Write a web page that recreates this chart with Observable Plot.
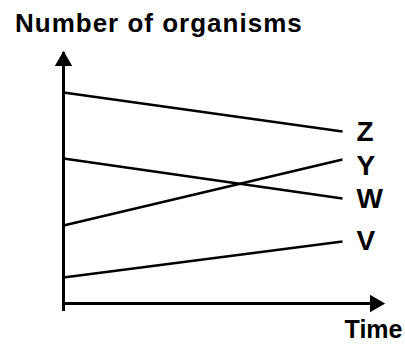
<!DOCTYPE html>
<html>
<head>
<meta charset="utf-8">
<script src="https://cdn.jsdelivr.net/npm/d3@7"></script>
<script src="https://cdn.jsdelivr.net/npm/@observablehq/plot@0.6"></script>
<style>
  body { margin: 0; background: #fff; font-family: "Liberation Sans", Arial, sans-serif; }
  #title { font: bold 26px "Liberation Sans", Arial, sans-serif; letter-spacing: 1px; line-height: 30px; height: 32px; padding: 8px 0 0 15px; color: #000; white-space: nowrap; }
</style>
</head>
<body>
<div id="title">Number of organisms</div>
<div id="chart"></div>
<script>
// Data
const organisms = ["Z", "W", "Y", "V"];
const startValues = [8.41, 5.78, 3.11, 1.04];
const endValues = [6.85, 4.18, 5.74, 2.47];
const timeStart = 0;
const timeEnd = 10;
const yAxisMax = 10;
const xAxisMax = 11.47;
const xLabel = "Time";

const rows = organisms.map((name, i) => ({
  name, x1: timeStart, x2: timeEnd, y1: startValues[i], y2: endValues[i]
}));

const font = "Liberation Sans, Arial, sans-serif";

const chart = Plot.plot({
  width: 405,
  height: 305,
  marginLeft: 63,
  marginRight: 63,
  marginTop: 12,
  marginBottom: 42,
  x: {domain: [0, 10], axis: null},
  y: {domain: [0, 10], axis: null},
  style: {fontFamily: font, overflow: "visible", background: "white", color: "black"},
  marks: [
    // axes
    Plot.ruleX([0], {y1: 0, y2: yAxisMax, stroke: "black", strokeWidth: 3, insetTop: 8}),
    Plot.ruleY([0], {x1: 0, x2: xAxisMax, stroke: "black", strokeWidth: 3, insetRight: 8}),
    Plot.dot([{x: 0, y: yAxisMax}], {x: "x", y: "y", symbol: d3.symbolTriangle, r: 5.5, fill: "black", stroke: "black", dy: 8.5}),
    Plot.dot([{x: xAxisMax, y: 0}], {x: "x", y: "y", symbol: d3.symbolTriangle, r: 5.5, fill: "black", stroke: "black", rotate: 90, dx: -8.5}),
    // lines
    Plot.link(rows, {x1: "x1", y1: "y1", x2: "x2", y2: "y2", stroke: "black", strokeWidth: 2.5}),
    // labels
    Plot.text(rows.filter(d => d.name !== "Y"), {x: "x2", y: "y2", text: "name", textAnchor: "start", lineAnchor: "middle", dx: 14, fontSize: 28, fontWeight: "bold", fill: "black"}),
    Plot.text(rows.filter(d => d.name === "Y"), {x: "x2", y: "y2", text: "name", textAnchor: "start", lineAnchor: "middle", dx: 14, dy: 7, fontSize: 28, fontWeight: "bold", fill: "black"}),
    Plot.text([xLabel], {frameAnchor: "bottom-right", textAnchor: "end", lineAnchor: "top", dx: 60, dy: 17, fontSize: 25, fontWeight: "bold", fill: "black"})
  ]
});
document.getElementById("chart").appendChild(chart);
</script>
</body>
</html>
